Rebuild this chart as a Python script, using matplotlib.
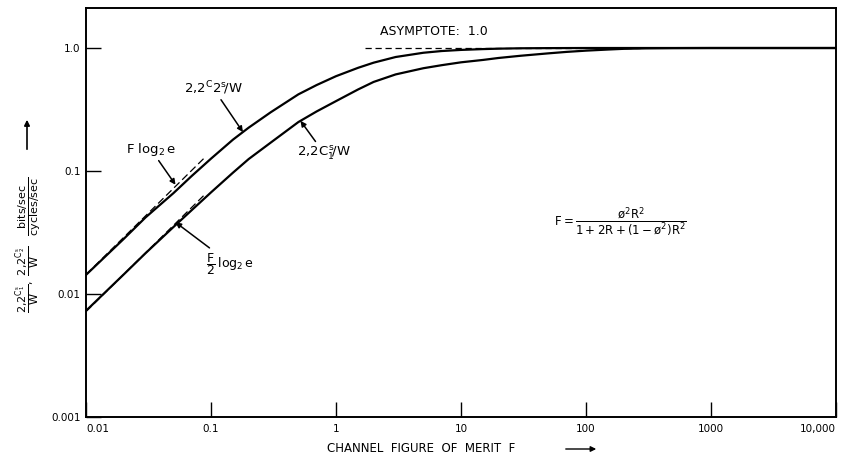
import numpy as np
import matplotlib
matplotlib.use("Agg")
import matplotlib.pyplot as plt

plt.rcParams['font.family'] = ['DejaVu Sans']
plt.rcParams['mathtext.fontset'] = 'dejavusans'
plt.rcParams['mathtext.default'] = 'regular'

# Channel figure of merit F and normalized rates
merit = [0.01, 0.02, 0.03, 0.05, 0.07, 0.1, 0.15, 0.2, 0.3, 0.5, 0.7, 1, 1.5, 2, 3,
         5, 7, 10, 15, 20, 30, 50, 70, 100, 150, 200, 300, 500, 1000, 10000]
rate_c2 = [0.0143, 0.028, 0.042, 0.066, 0.091, 0.126, 0.18, 0.225, 0.30, 0.42, 0.50,
           0.59, 0.69, 0.76, 0.845, 0.915, 0.945, 0.965, 0.98, 0.988, 0.995, 0.998,
           0.999, 1.0, 1.0, 1.0, 1.0, 1.0, 1.0, 1.0]
rate_c1 = [0.0073, 0.0144, 0.0215, 0.035, 0.048, 0.067, 0.097, 0.125, 0.17, 0.25, 0.305,
           0.37, 0.46, 0.53, 0.61, 0.685, 0.725, 0.765, 0.80, 0.83, 0.865, 0.905,
           0.93, 0.952, 0.972, 0.985, 0.994, 0.998, 1.0, 1.0]

# Small-F asymptotes: F log2 e and (F/2) log2 e
asym_f = [0.01, 0.09]
asym_full = [0.0144, 0.130]
asym_half = [0.0072, 0.065]

# Large-F asymptote
plateau_f = [1.7, 270]
plateau_v = [1.0, 1.0]

x_ticks = [0.01, 0.1, 1, 10, 100, 1000, 10000]
x_labels = ['0.01', '0.1', '1', '10', '100', '1000', '10,000']
y_ticks = [0.001, 0.01, 0.1, 1.0]
y_labels = ['0.001', '0.01', '0.1', '1.0']

fig = plt.figure(figsize=(8.41, 4.68), dpi=100)
ax = fig.add_axes([86 / 841, 51 / 468, 750 / 841, 409 / 468])
ax.set_xscale('log')
ax.set_yscale('log')
ax.set_xlim(0.01, 10000)
ax.set_ylim(0.001, 2.115)

ax.plot(merit, rate_c2, color='black', lw=1.6)
ax.plot(merit, rate_c1, color='black', lw=1.6)
ax.plot(asym_f, asym_full, color='black', lw=0.9, dashes=(6, 3))
ax.plot(asym_f, asym_half, color='black', lw=0.9, dashes=(6, 3))
ax.plot(plateau_f, plateau_v, color='black', lw=0.9, dashes=(5, 3))

ax.set_xticks(x_ticks)
ax.set_xticklabels(x_labels)
ax.set_yticks(y_ticks)
ax.set_yticklabels(y_labels)
ax.minorticks_off()
ax.tick_params(direction='in', length=11, width=1, labelsize=7.5, pad=4)
ax.tick_params(axis='x', pad=5)
xl = ax.get_xticklabels()
xl[0].set_horizontalalignment('left')
xl[-1].set_horizontalalignment('right')
for s in ax.spines.values():
    s.set_linewidth(1.4)


def on_curve(f, xs, ys):
    return 10 ** np.interp(np.log10(f), np.log10(xs), np.log10(ys))


arrow = dict(arrowstyle='-|>', color='black', lw=1.1, mutation_scale=8,
             shrinkA=0, shrinkB=0)

ax.annotate(r'$2{,}2^{C}2^{s}\!/W$', xy=(0.18, on_curve(0.18, merit, rate_c2)),
            xytext=(0.104, 0.40), ha='center', va='bottom', fontsize=9.5,
            arrowprops=arrow)
ax.annotate(r'$2{,}2C_{1}^{\,s}\!/W$', xy=(0.52, on_curve(0.52, merit, rate_c1)),
            xytext=(0.80, 0.165), ha='center', va='top', fontsize=9.5,
            arrowprops=arrow)
ax.annotate(r'$F\ \log_{2}e$', xy=(0.052, on_curve(0.052, asym_f, asym_full) * 1.03),
            xytext=(0.033, 0.128), ha='center', va='bottom', fontsize=9.5,
            arrowprops=arrow)
ax.annotate(r'$\dfrac{F}{2}\,\log_{2}e$', xy=(0.052, on_curve(0.052, asym_f, asym_half) * 1.02),
            xytext=(0.092, 0.0225), ha='left', va='top', fontsize=9,
            arrowprops=arrow)

ax.text(2.24, 1.37, 'ASYMPTOTE:  1.0', ha='left', va='center', fontsize=9)

fig.text(620 / 841, 1 - 222 / 468,
         r'$F = \dfrac{\o^{2}R^{2}}{1+2R+(1-\o^{2})R^{2}}$',
         ha='center', va='center', fontsize=8.5)

fig.text(29 / 841, 1 - 245 / 468,
         r'$\dfrac{2{,}2^{C_1^{s}}}{W},\ \dfrac{2{,}2^{C_2^{s}}}{W}\quad\dfrac{\mathrm{bits/sec}}{\mathrm{cycles/sec}}$',
         rotation=90, ha='center', va='center', fontsize=8)
fig.add_artist(matplotlib.patches.FancyArrowPatch(
    (27 / 841, 1 - 152 / 468), (27 / 841, 1 - 117 / 468),
    transform=fig.transFigure, arrowstyle='-|>', mutation_scale=8,
    color='black', lw=1.2))

fig.text(327 / 841, 1 - 449 / 468, 'CHANNEL  FIGURE  OF  MERIT  F',
         ha='left', va='center', fontsize=8.5)
fig.add_artist(matplotlib.patches.FancyArrowPatch(
    (563 / 841, 1 - 449 / 468), (599 / 841, 1 - 449 / 468),
    transform=fig.transFigure, arrowstyle='-|>', mutation_scale=8,
    color='black', lw=1.0))

fig.savefig('out.png', dpi=100)
